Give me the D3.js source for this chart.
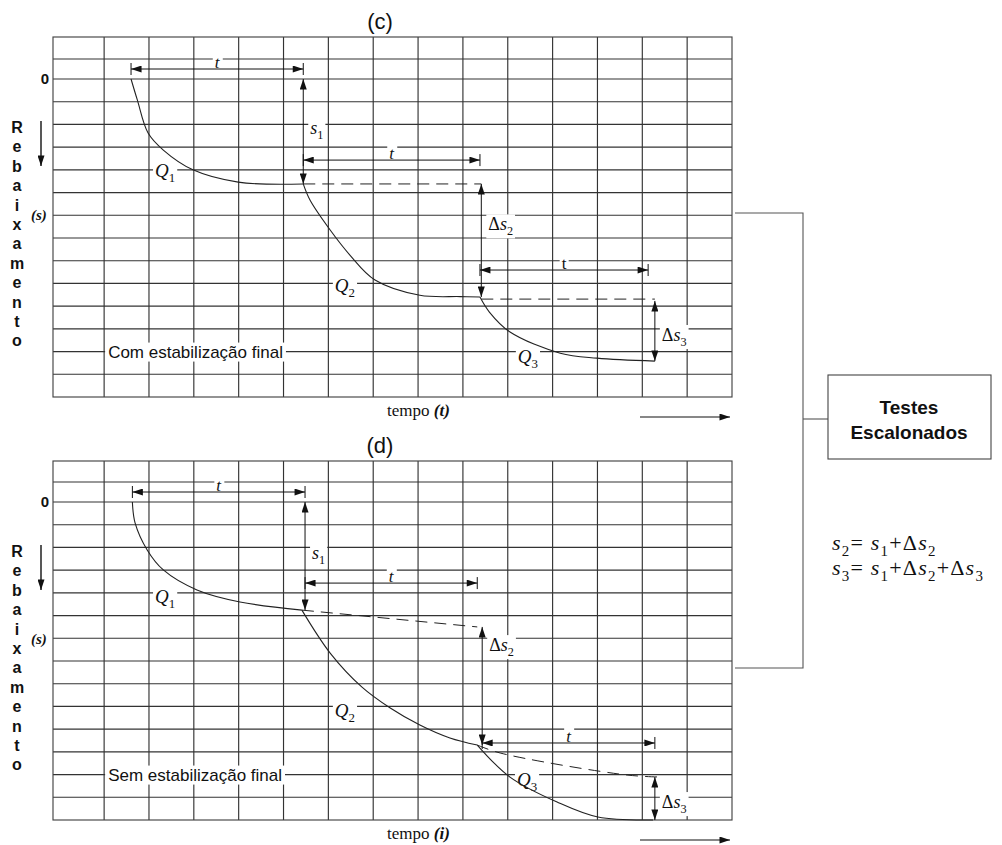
<!DOCTYPE html>
<html>
<head>
<meta charset="utf-8">
<script src="https://cdn.jsdelivr.net/npm/d3@7/dist/d3.min.js"></script>
<style>
  body { margin: 0; background: #fff; }
  svg { display: block; }
  text { white-space: pre; }
</style>
</head>
<body>
<svg width="1002" height="845"></svg>
<script>
// time in grid columns, drawdown (s) in grid rows below the 0 line
const panelTitles = ['(c)', '(d)'];
const panelNotes = ['Com estabilização final', 'Sem estabilização final'];
const timeVars = ['(t)', '(i)'];
const axisWord = 'Rebaixamento';
const timeGridLines = d3.range(1, 15);
const drawdownGridLines = [-0.88].concat(d3.range(0, 14));

// (c) with final stabilisation
const q1Com = [[1.60, 0], [1.74, 0.92], [1.98, 2.38], [2.32, 3.13], [2.98, 4.0], [3.99, 4.54], [5.44, 4.62]];
const q2Com = [[5.44, 4.62], [5.59, 5.33], [6.04, 6.65], [6.48, 7.75], [7.04, 8.85], [8.04, 9.52], [8.94, 9.58], [9.38, 9.60]];
const q3Com = [[9.38, 9.60], [9.59, 10.26], [10.05, 11.14], [11.17, 12.07], [11.99, 12.29], [13.28, 12.42]];
const trendCom = [[[5.44, 4.62], [9.41, 4.62]], [[9.41, 9.69], [13.28, 9.69]]];
const spansCom = [
  { from: 1.60, to: 5.44, at: -0.44, label: 't' },
  { from: 5.44, to: 9.38, at: 3.57, label: 't' },
  { from: 9.38, to: 13.13, at: 8.41, label: 't', roman: true }
];
const dropsCom = [
  { at: 5.44, from: 0, to: 4.62, label: 's_1', labelAt: 2.16 },
  { at: 9.41, from: 4.62, to: 9.60, label: 'Δs_2', labelAt: 6.4 },
  { at: 13.28, from: 9.77, to: 12.42, label: 'Δs_3', labelAt: 11.27 }
];
const qLabelsCom = [
  { t: 2.36, s: 4.05, label: 'Q_1' },
  { t: 6.37, s: 9.11, label: 'Q_2' },
  { t: 10.45, s: 12.24, label: 'Q_3' }
];

// (d) without final stabilisation
const q1Sem = [[1.63, 0], [1.69, 0.92], [1.96, 2.11], [2.32, 2.99], [3.07, 3.87], [4.03, 4.40], [5.41, 4.76]];
const q2Sem = [[5.41, 4.76], [6.04, 6.65], [6.75, 8.15], [7.38, 9.07], [8.04, 9.82], [8.71, 10.39], [9.32, 10.70]];
const q3Sem = [[9.32, 10.70], [10.05, 12.11], [11.10, 13.21], [12.01, 13.87], [13.24, 14.0]];
const trendSem = [[[5.41, 4.76], [9.32, 5.50]], [[9.32, 10.70], [9.83, 11.05], [12.66, 12.02], [13.44, 12.11]]];
const spansSem = [
  { from: 1.63, to: 5.48, at: -0.44, label: 't' },
  { from: 5.48, to: 9.32, at: 3.57, label: 't' },
  { from: 9.43, to: 13.28, at: 10.61, label: 't' }
];
const dropsSem = [
  { at: 5.48, from: 0, to: 4.76, label: 's_1', labelAt: 2.25 },
  { at: 9.43, from: 5.50, to: 10.70, label: 'Δs_2', labelAt: 6.30 },
  { at: 13.28, from: 12.11, to: 14.0, label: 'Δs_3', labelAt: 13.21 }
];
const qLabelsSem = [
  { t: 2.36, s: 4.18, label: 'Q_1' },
  { t: 6.37, s: 9.20, label: 'Q_2' },
  { t: 10.43, s: 12.24, label: 'Q_3' }
];

const summaryTitle = ['Testes', 'Escalonados'];
const formulas = ['s_2= s_1+Δs_2', 's_3= s_1+Δs_2+Δs_3'];

const SERIF = 'Liberation Serif, Times New Roman, serif';
const SANS = 'Liberation Sans, Arial, sans-serif';
const INK = '#111';

const svg = d3.select('svg');
const x = d3.scaleLinear().domain([-0.14, 15]).range([53, 732]);

const defs = svg.append('defs');
defs.append('marker')
  .attr('id', 'head')
  .attr('viewBox', '0 0 12 8')
  .attr('refX', 12).attr('refY', 4)
  .attr('markerWidth', 12).attr('markerHeight', 7)
  .attr('markerUnits', 'userSpaceOnUse')
  .attr('orient', 'auto-start-reverse')
  .append('path')
    .attr('d', 'M0,0L12,4L0,8Z')
    .attr('fill', INK);

function mathLabel(g, str, px, py, size, opts = {}) {
  let grp = g.append('g');
  let text = grp.append('text')
    .attr('x', px).attr('y', py)
    .attr('font-family', SERIF)
    .attr('font-size', size)
    .attr('letter-spacing', opts.spacing || null)
    .attr('text-anchor', opts.anchor || 'start')
    .attr('fill', INK);
  let shift = 0;
  for (let i = 0; i < str.length; i++) {
    let ch = str[i], sub = false;
    if (ch === '_') { sub = true; ch = str[++i]; }
    let lift = sub ? size * 0.28 : 0;
    let dy = lift - shift;
    shift = lift;
    text.append('tspan')
      .attr('dy', dy !== 0 ? dy : null)
      .attr('font-size', sub ? size * 0.68 : null)
      .attr('font-style', /[A-Za-z]/.test(ch) && !opts.roman ? 'italic' : null)
      .text(ch);
  }
  if (opts.halo) halo(grp, text);
  return grp;
}

function halo(grp, text, pad = 2) {
  let bb = text.node().getBBox();
  grp.insert('rect', 'text')
    .attr('x', bb.x - pad).attr('y', bb.y)
    .attr('width', bb.width + pad * 2).attr('height', bb.height)
    .attr('fill', '#fff');
}

function drawPanel(p) {
  let g = svg.append('g');
  let y = d3.scaleLinear().domain([0, 14]).range([p.zeroY, p.bottom]);
  let line = d3.line().x(d => x(d[0])).y(d => y(d[1])).curve(d3.curveCatmullRom.alpha(0.5));

  // graph paper
  let grid = g.append('g').attr('stroke', '#333').attr('stroke-width', 1.15);
  grid.selectAll('.vline').data(timeGridLines).join('line')
    .attr('class', 'vline')
    .attr('x1', d => x(d)).attr('x2', d => x(d))
    .attr('y1', p.top).attr('y2', p.bottom);
  grid.selectAll('.hline').data(drawdownGridLines).join('line')
    .attr('class', 'hline')
    .attr('x1', x.range()[0]).attr('x2', x.range()[1])
    .attr('y1', d => y(d)).attr('y2', d => y(d));
  grid.append('rect')
    .attr('x', x.range()[0]).attr('y', p.top)
    .attr('width', x.range()[1] - x.range()[0]).attr('height', p.bottom - p.top)
    .attr('fill', 'none').attr('stroke', '#444');

  // labels sitting on the paper
  let labels = g.append('g');
  let note = labels.append('g');
  let noteText = note.append('text')
    .attr('x', x(1) + 4).attr('y', y(12) + 6)
    .attr('font-family', SANS).attr('font-size', 17).attr('fill', INK)
    .text(p.note);
  halo(note, noteText, 3);

  p.qLabels.forEach(q => mathLabel(labels, q.label, x(q.t), y(q.s) + 6, 19, { anchor: 'middle', halo: true }));
  p.spans.forEach(sp => mathLabel(labels, sp.label, x((sp.from + sp.to) / 2), y(sp.at) - 1, 17,
    { anchor: 'middle', halo: true, roman: sp.roman }));
  p.drops.forEach(dr => mathLabel(labels, dr.label, x(dr.at) + 7, y(dr.labelAt) + 6, 18, { halo: true }));

  // drawdown curves and extrapolated trends
  g.append('g').selectAll('path').data(p.curves).join('path')
    .attr('d', line)
    .attr('fill', 'none').attr('stroke', '#222').attr('stroke-width', 1.1);
  g.append('g').selectAll('path').data(p.trends).join('path')
    .attr('d', line)
    .attr('fill', 'none').attr('stroke', '#222').attr('stroke-width', 1)
    .attr('stroke-dasharray', '12,7');

  // time spans
  let spans = g.append('g').attr('stroke', INK).attr('stroke-width', 1);
  spans.selectAll('.span').data(p.spans).join('line')
    .attr('class', 'span')
    .attr('x1', d => x(d.from)).attr('x2', d => x(d.to))
    .attr('y1', d => y(d.at)).attr('y2', d => y(d.at))
    .attr('marker-start', 'url(#head)').attr('marker-end', 'url(#head)');
  spans.selectAll('.tick').data(p.spans.flatMap(d => [[d.from, d.at], [d.to, d.at]])).join('line')
    .attr('class', 'tick')
    .attr('x1', d => x(d[0])).attr('x2', d => x(d[0]))
    .attr('y1', d => y(d[1]) - 6).attr('y2', d => y(d[1]) + 6);

  // drawdown increments
  spans.selectAll('.drop').data(p.drops).join('line')
    .attr('class', 'drop')
    .attr('x1', d => x(d.at)).attr('x2', d => x(d.at))
    .attr('y1', d => y(d.from)).attr('y2', d => y(d.to))
    .attr('marker-start', 'url(#head)').attr('marker-end', 'url(#head)');

  // outside texts
  svg.append('text')
    .attr('x', 380).attr('y', p.top - 8)
    .attr('text-anchor', 'middle')
    .attr('font-family', SANS).attr('font-size', 22).attr('fill', INK)
    .text(p.title);

  svg.append('text')
    .attr('x', 49).attr('y', y(0) + 5)
    .attr('text-anchor', 'end')
    .attr('font-family', SANS).attr('font-size', 15).attr('font-weight', 'bold').attr('fill', INK)
    .text('0');

  svg.append('g').selectAll('text').data(axisWord.split('')).join('text')
    .attr('x', 17).attr('y', (d, i) => p.top + 96 + i * 19.4)
    .attr('text-anchor', 'middle')
    .attr('font-family', SANS).attr('font-size', 16).attr('font-weight', 'bold').attr('fill', INK)
    .text(d => d);

  svg.append('line')
    .attr('x1', 41).attr('x2', 41)
    .attr('y1', p.top + 84).attr('y2', p.top + 129)
    .attr('stroke', INK).attr('stroke-width', 1.4)
    .attr('marker-end', 'url(#head)');

  svg.append('text')
    .attr('x', 31).attr('y', p.top + 183)
    .attr('font-family', SERIF).attr('font-size', 15)
    .attr('font-style', 'italic').attr('font-weight', 'bold').attr('fill', INK)
    .text('(s)');

  let tempo = svg.append('text')
    .attr('x', 387).attr('y', p.bottom + 19)
    .attr('font-family', SERIF).attr('font-size', 17).attr('fill', INK);
  tempo.append('tspan').text('tempo ');
  tempo.append('tspan').attr('font-style', 'italic').attr('font-weight', 'bold').text(p.timeVar);

  svg.append('line')
    .attr('x1', 640).attr('x2', 730)
    .attr('y1', p.bottom + 20).attr('y2', p.bottom + 20)
    .attr('stroke', INK).attr('stroke-width', 1.1)
    .attr('marker-end', 'url(#head)');
}

const panels = [
  { top: 37, zeroY: 79, bottom: 397, title: panelTitles[0], note: panelNotes[0], timeVar: timeVars[0],
    curves: [q1Com, q2Com, q3Com], trends: trendCom, spans: spansCom, drops: dropsCom, qLabels: qLabelsCom },
  { top: 461, zeroY: 502, bottom: 820, title: panelTitles[1], note: panelNotes[1], timeVar: timeVars[1],
    curves: [q1Sem, q2Sem, q3Sem], trends: trendSem, spans: spansSem, drops: dropsSem, qLabels: qLabelsSem }
];
panels.forEach(drawPanel);

// bracket joining both panels to the summary box
let bracket = svg.append('g').attr('stroke', '#555').attr('stroke-width', 1.1).attr('fill', 'none');
bracket.append('path').attr('d', 'M735,213H803V668H735');
bracket.append('path').attr('d', 'M803,419H828');
bracket.append('rect')
  .attr('x', 828).attr('y', 375).attr('width', 163).attr('height', 84)
  .attr('stroke', '#444');

svg.append('g').selectAll('text').data(summaryTitle).join('text')
  .attr('x', 909).attr('y', (d, i) => 414 + i * 25)
  .attr('text-anchor', 'middle')
  .attr('font-family', SANS).attr('font-size', 19).attr('font-weight', 'bold').attr('fill', INK)
  .text(d => d);

formulas.forEach((f, i) => mathLabel(svg, f, 832, 550 + i * 25, 22, { spacing: 1.2 }));
</script>
</body>
</html>
